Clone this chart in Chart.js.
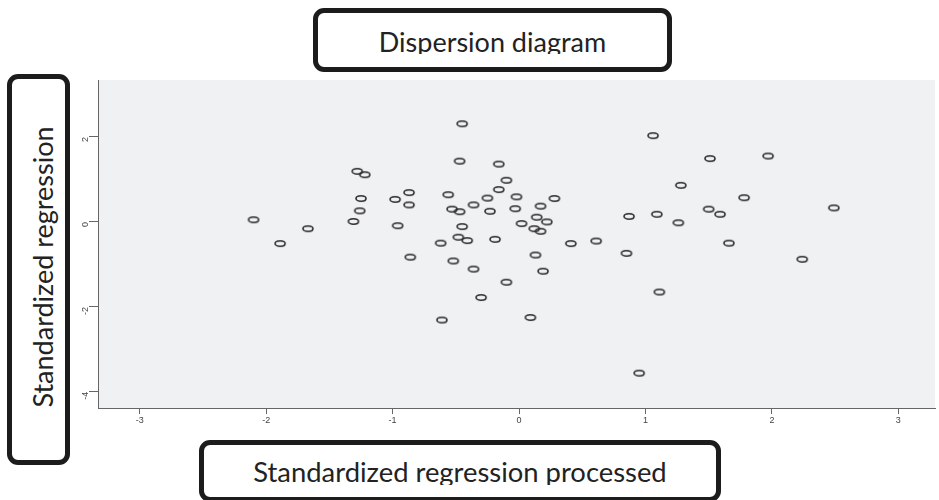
<!DOCTYPE html>
<html>
<head>
<meta charset="utf-8">
<script src="https://cdn.jsdelivr.net/npm/chart.js@4"></script>
<style>
  body { margin: 0; background: #fff; }
  #wrap { position: relative; width: 939px; height: 500px; overflow: hidden; }
  .box {
    position: absolute; box-sizing: border-box;
    border: 5px solid #1c1c1c; border-radius: 11px; background: #fff;
    font-family: Lato, "Open Sans", sans-serif; color: #222;
    overflow: hidden;
  }
  .clip { position: absolute; overflow: hidden; white-space: nowrap; }
</style>
</head>
<body>
<div id="wrap">
  <canvas id="scatter" width="939" height="500"></canvas>

  <div class="box" style="left:313px; top:8px; width:359px; height:64px;">
    <div class="clip" style="left:0; right:0; top:0; height:41px; text-align:center; font-size:27px; line-height:57px;">Dispersion diagram</div>
  </div>

  <div class="box" style="left:7px; top:74px; width:63px; height:391px;">
    <div class="clip" style="left:-149px; top:168px; width:360px; height:40px; text-align:center; font-size:27px; line-height:40px; transform:rotate(-90deg);">Standardized regression</div>
  </div>

  <div class="box" style="left:199px; top:440px; width:522px; height:62px;">
    <div class="clip" style="left:0; right:0; top:0; height:40px; text-align:center; font-size:27.4px; line-height:54px;">Standardized regression processed</div>
  </div>
</div>

<script>
// tick positions
const xTicks = [-3, -2, -1, 0, 1, 2, 3];
const yTicks = [-4, -2, 0, 2];

// standardized predicted value (x) and standardized residual (y)
const xValues = [
  -2.10, -1.89, -1.67, -1.28, -1.22, -1.25, -1.26, -1.31, -0.98, -0.87,
  -0.87, -0.96, -0.86, -0.62, -0.45, -0.47, -0.16, -0.10, -0.16, -0.56,
  -0.25, -0.02, 0.28, -0.36, -0.53, -0.47, -0.23, -0.03, 0.17, 0.14,
  0.22, 0.02, 0.12, 0.17, -0.45, -0.48, -0.41, -0.19, 0.41, -0.52,
  -0.36, 0.13, 0.19, -0.10, -0.30, -0.61, 0.09, 1.06, 1.51, 1.97,
  1.28, 1.78, 0.87, 1.09, 1.50, 1.59, 1.26, 2.49, 0.61, 0.85,
  1.66, 2.24, 1.11, 0.95
];
const yValues = [
  0.05, -0.51, -0.16, 1.19, 1.11, 0.55, 0.26, 0.01, 0.53, 0.69,
  0.40, -0.09, -0.83, -0.50, 2.31, 1.43, 1.36, 0.98, 0.76, 0.64,
  0.56, 0.59, 0.55, 0.40, 0.30, 0.24, 0.25, 0.31, 0.37, 0.11,
  0.00, -0.04, -0.16, -0.22, -0.11, -0.36, -0.44, -0.41, -0.51, -0.92,
  -1.11, -0.78, -1.16, -1.42, -1.78, -2.31, -2.25, 2.03, 1.49, 1.55,
  0.86, 0.57, 0.13, 0.18, 0.30, 0.18, -0.02, 0.33, -0.45, -0.74,
  -0.50, -0.88, -1.65, -3.56
];

// flattened open ring, like the SPSS marker
function ringMarker() {
  const c = document.createElement('canvas');
  c.width = 14; c.height = 9;
  const g = c.getContext('2d');
  g.strokeStyle = '#2e2e2e';
  g.lineWidth = 1.6;
  g.beginPath();
  g.ellipse(7, 4.5, 5.0, 2.7, 0, 0, Math.PI * 2);
  g.stroke();
  return c;
}

const plotBg = {
  id: 'plotBg',
  beforeDraw(chart) {
    const a = chart.chartArea, ctx = chart.ctx;
    ctx.save();
    ctx.fillStyle = '#f0f1f3';
    ctx.fillRect(a.left, a.top, a.right - a.left, a.bottom - a.top);
    ctx.restore();
  }
};

const points = xValues.map((x, i) => ({ x: x, y: yValues[i] }));

new Chart(document.getElementById('scatter'), {
  type: 'scatter',
  data: {
    datasets: [{
      data: points,
      pointStyle: ringMarker(),
      pointHoverRadius: 0
    }]
  },
  options: {
    responsive: false,
    animation: false,
    events: [],
    layout: { padding: { top: 80, left: 0, right: 0, bottom: 0 } },
    plugins: { legend: { display: false }, tooltip: { enabled: false } },
    scales: {
      x: {
        min: -3.33, max: 3.29,
        afterBuildTicks(s) { s.ticks = xTicks.map(v => ({ value: v })); },
        afterFit(s) { s.height = 92; },
        grid: { drawOnChartArea: false, tickLength: 6, color: '#666' },
        border: { color: '#666', width: 1 },
        ticks: { font: { family: 'Liberation Sans', size: 9 }, color: '#444', padding: 1 }
      },
      y: {
        min: -4.38, max: 3.34,
        afterBuildTicks(s) { s.ticks = yTicks.map(v => ({ value: v })); },
        afterFit(s) { s.width = 98; },
        grid: { drawOnChartArea: false, tickLength: 9, color: '#666' },
        border: { color: '#666', width: 1 },
        ticks: {
          font: { family: 'Liberation Sans', size: 9 }, color: '#444', padding: 3,
          minRotation: 90, maxRotation: 90
        }
      }
    }
  },
  plugins: [plotBg]
});
</script>
</body>
</html>
